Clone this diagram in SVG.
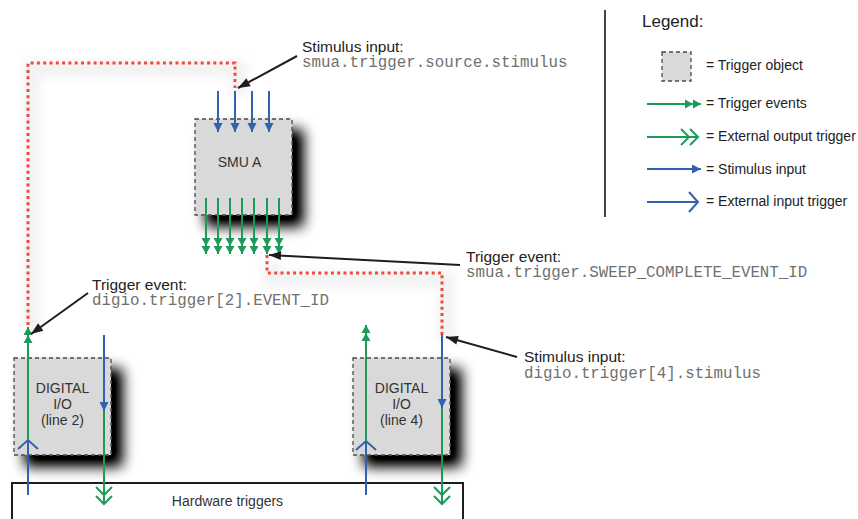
<svg xmlns="http://www.w3.org/2000/svg" width="858" height="519" viewBox="0 0 858 519">
<style>
  .bg{fill:#ffffff}
  .obj{fill:#d9d9d9;stroke:#4a4a4a;stroke-width:1.3;stroke-dasharray:4 3}
  .lbl{font-family:"Liberation Sans",Arial,sans-serif;font-size:14px;fill:#333}
  .ann{font-family:"Liberation Sans",Arial,sans-serif;font-size:15.5px;fill:#222}
  .code{font-family:"Liberation Mono","Courier New",monospace;font-size:15.8px;fill:#707070}
  .leg{font-family:"Liberation Sans",Arial,sans-serif;font-size:14px;fill:#222}
  .green{stroke:#1c9a58;stroke-width:2;fill:none}
  .blue{stroke:#3461ad;stroke-width:2;fill:none}
  .red{stroke:#f5463a;stroke-width:3;fill:none;stroke-dasharray:3 3.3}
  .glow{stroke:#000;stroke-opacity:0.05;stroke-width:16;fill:none}
  .black{stroke:#1e1e1e;stroke-width:2;fill:none}
</style>
<defs>
  <filter id="sh" x="-30%" y="-30%" width="170%" height="170%">
    <feGaussianBlur in="SourceAlpha" stdDeviation="7"/>
    <feOffset dx="11" dy="11" result="b"/>
    <feComponentTransfer><feFuncA type="linear" slope="1.15"/></feComponentTransfer>
    <feMerge><feMergeNode/><feMergeNode in="SourceGraphic"/></feMerge>
  </filter>
  <filter id="soft" x="-20%" y="-20%" width="140%" height="140%">
    <feGaussianBlur stdDeviation="5"/>
  </filter>
  <marker id="gDbl" markerUnits="userSpaceOnUse" markerWidth="18" markerHeight="12" refX="16" refY="6" orient="auto" overflow="visible">
    <path d="M0,1.5 L8,6 L0,10.5 Z M8,1.5 L16,6 L8,10.5 Z" fill="#1c9a58"/>
  </marker>
  <marker id="gChev" markerUnits="userSpaceOnUse" markerWidth="19" markerHeight="20" refX="18" refY="10" orient="auto" overflow="visible">
    <path d="M1,2 L9,10 L1,18 M10,2 L18,10 L10,18" fill="none" stroke="#1c9a58" stroke-width="2"/>
  </marker>
  <marker id="bTri" markerUnits="userSpaceOnUse" markerWidth="10" markerHeight="12" refX="9" refY="6" orient="auto" overflow="visible">
    <path d="M0,1.5 L9,6 L0,10.5 Z" fill="#3461ad"/>
  </marker>
  <marker id="bChev" markerUnits="userSpaceOnUse" markerWidth="12" markerHeight="22" refX="10" refY="11" orient="auto" overflow="visible">
    <path d="M1,1 L10,11 L1,21" fill="none" stroke="#3461ad" stroke-width="2"/>
  </marker>
  <marker id="kArr" markerUnits="userSpaceOnUse" markerWidth="13" markerHeight="10" refX="12" refY="5" orient="auto" overflow="visible">
    <path d="M0,0.5 L12,5 L0,9.5 Z" fill="#1e1e1e"/>
  </marker>
</defs>
<rect class="bg" x="0" y="0" width="858" height="519"/>

<!-- soft glow under red routes -->
<g filter="url(#soft)" transform="translate(4,6)">
  <path class="glow" d="M28,325 V63 H235 V88"/>
  <path class="glow" d="M267,255 V273 H442 V335"/>
</g>

<!-- nodes -->
<g id="smu-a">
  <rect class="obj" x="195" y="119" width="97" height="96" filter="url(#sh)"/>
  <text class="lbl" x="239.5" y="167" text-anchor="middle">SMU A</text>
</g>
<g id="digio-2">
  <rect class="obj" x="14" y="358" width="97" height="97" filter="url(#sh)"/>
  <text class="lbl" x="62.5" y="393" text-anchor="middle">DIGITAL</text>
  <text class="lbl" x="62.5" y="409" text-anchor="middle">I/O</text>
  <text class="lbl" x="62.5" y="425" text-anchor="middle">(line 2)</text>
</g>
<g id="digio-4">
  <rect class="obj" x="353" y="358" width="97" height="97" filter="url(#sh)"/>
  <text class="lbl" x="401.5" y="393" text-anchor="middle">DIGITAL</text>
  <text class="lbl" x="401.5" y="409" text-anchor="middle">I/O</text>
  <text class="lbl" x="401.5" y="425" text-anchor="middle">(line 4)</text>
</g>
<g id="hardware-triggers">
  <rect x="12" y="483" width="451" height="60" fill="#fff" stroke="#1e1e1e" stroke-width="2"/>
  <text class="lbl" x="227.5" y="506" text-anchor="middle">Hardware triggers</text>
</g>

<!-- connectors -->
<g id="connectors">
  <!-- SMU A stimulus inputs -->
  <path class="blue" d="M218,91 V132" marker-end="url(#bTri)"/>
  <path class="blue" d="M235,91 V132" marker-end="url(#bTri)"/>
  <path class="blue" d="M252,91 V132" marker-end="url(#bTri)"/>
  <path class="blue" d="M269,91 V132" marker-end="url(#bTri)"/>
  <!-- SMU A trigger events -->
  <path class="green" d="M206,198 V254" marker-end="url(#gDbl)"/>
  <path class="green" d="M218,198 V254" marker-end="url(#gDbl)"/>
  <path class="green" d="M230,198 V254" marker-end="url(#gDbl)"/>
  <path class="green" d="M242,198 V254" marker-end="url(#gDbl)"/>
  <path class="green" d="M254,198 V254" marker-end="url(#gDbl)"/>
  <path class="green" d="M267,198 V254" marker-end="url(#gDbl)"/>
  <path class="green" d="M279,198 V254" marker-end="url(#gDbl)"/>

  <!-- DIGIO line 2 -->
  <path class="blue" d="M28,495 V440" marker-end="url(#bChev)"/>
  <path class="green" d="M28,440 V327" marker-end="url(#gDbl)"/>
  <path class="blue" d="M104,335 V411" marker-end="url(#bTri)"/>
  <path class="green" d="M104,411 V504" marker-end="url(#gChev)"/>

  <!-- DIGIO line 4 -->
  <path class="blue" d="M366,495 V441" marker-end="url(#bChev)"/>
  <path class="green" d="M366,441 V325" marker-end="url(#gDbl)"/>
  <path class="blue" d="M442,335 V408" marker-end="url(#bTri)"/>
  <path class="green" d="M442,408 V504" marker-end="url(#gChev)"/>

  <!-- red dotted routes -->
  <path class="red" d="M28,325 V63 H235 V88"/>
  <path class="red" d="M267,255 V273 H442 V335"/>

  <!-- annotation arrows -->
  <path class="black" d="M297,56 L238,88" marker-end="url(#kArr)"/>
  <path class="black" d="M460,265 L269,255" marker-end="url(#kArr)"/>
  <path class="black" d="M88,293 L31,334" marker-end="url(#kArr)"/>
  <path class="black" d="M517,357 L446,337" marker-end="url(#kArr)"/>
</g>

<!-- annotation labels -->
<g id="labels">
  <text class="ann" x="302" y="52">Stimulus input:</text>
  <text class="code" x="302" y="67">smua.trigger.source.stimulus</text>
  <text class="ann" x="466" y="262">Trigger event:</text>
  <text class="code" x="466" y="277">smua.trigger.SWEEP_COMPLETE_EVENT_ID</text>
  <text class="ann" x="92" y="290">Trigger event:</text>
  <text class="code" x="92" y="305">digio.trigger[2].EVENT_ID</text>
  <text class="ann" x="524" y="362">Stimulus input:</text>
  <text class="code" x="524" y="378">digio.trigger[4].stimulus</text>
</g>

<!-- legend -->
<g id="legend">
  <line x1="605" y1="10" x2="605" y2="217" stroke="#444" stroke-width="2"/>
  <text x="642" y="27" font-family="'Liberation Sans',Arial,sans-serif" font-size="17" fill="#222">Legend:</text>
  <rect class="obj" x="662" y="52" width="29" height="29"/>
  <text class="leg" x="706" y="70">= Trigger object</text>
  <path class="green" d="M647,104 H701" marker-end="url(#gDbl)"/>
  <text class="leg" x="706" y="108">= Trigger events</text>
  <path class="green" d="M647,137 H698" marker-end="url(#gChev)"/>
  <text class="leg" x="706" y="141">= External output trigger</text>
  <path class="blue" d="M647,169 H701" marker-end="url(#bTri)"/>
  <text class="leg" x="706" y="174">= Stimulus input</text>
  <path class="blue" d="M647,202 H698" marker-end="url(#bChev)"/>
  <text class="leg" x="706" y="206">= External input trigger</text>
</g>
</svg>
